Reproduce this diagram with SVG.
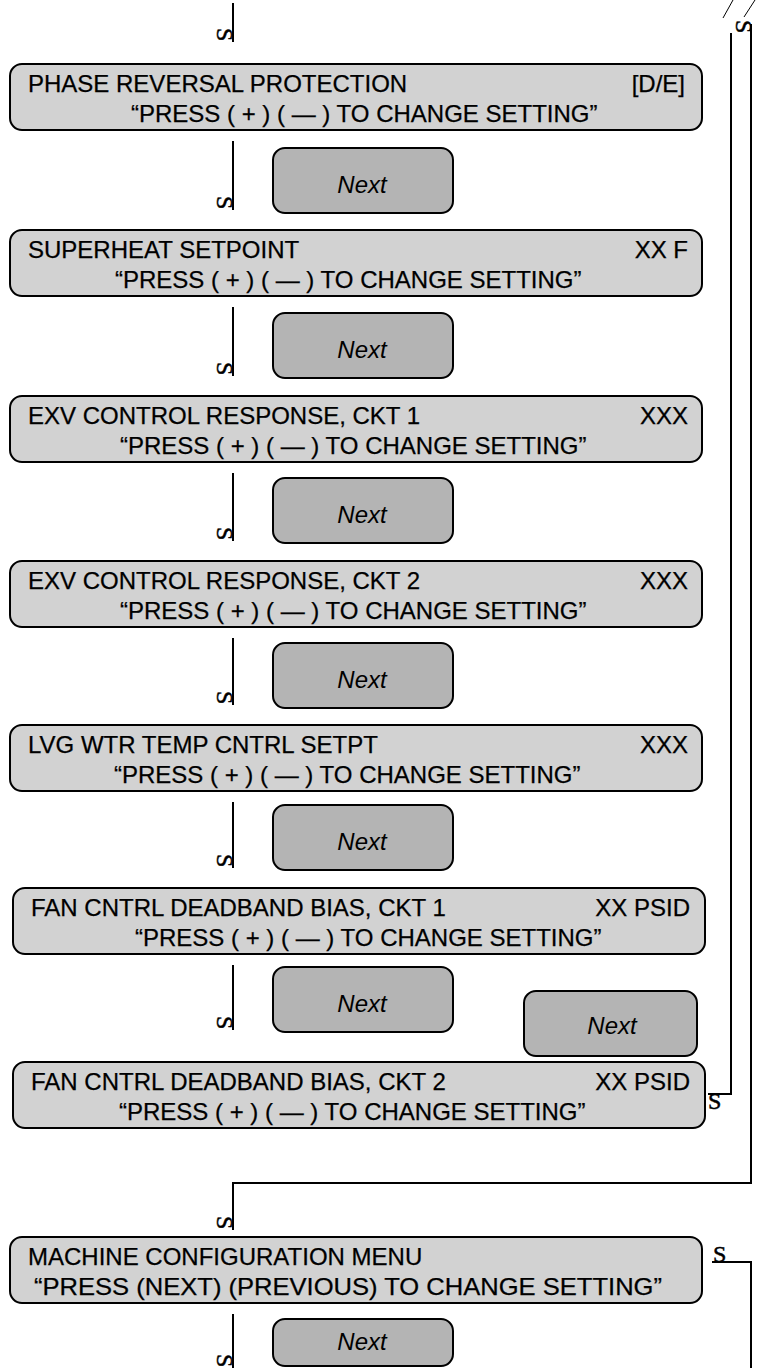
<svg xmlns="http://www.w3.org/2000/svg" width="766" height="1368" viewBox="0 0 766 1368">
<style>
.box{fill:#d2d2d2;stroke:#000;stroke-width:2}
.nxt{fill:#b4b4b4;stroke:#000;stroke-width:2}
.t{font-family:"Liberation Sans",Arial,sans-serif;font-size:24px;fill:#000;stroke:#000;stroke-width:0.25}
.n{font-family:"Liberation Sans",Arial,sans-serif;font-size:24px;font-style:italic;fill:#000;text-anchor:middle}
.r{text-anchor:end}
.ln{fill:none;stroke:#000;stroke-width:2}
.s{font-family:"Liberation Serif","Times New Roman",serif;font-size:24px;fill:#000;stroke:#000;stroke-width:0.5}
</style>
<rect width="766" height="1368" fill="#fff"/>
<g id="connectors">
<path class="ln" d="M233 3V42M233 141V210M233 307V376M233 473V541M233 638V705M233 802V868M233 965V1030M233 1314V1368"/>
<text class="s" transform="translate(217,28) rotate(90)">S</text>
<text class="s" transform="translate(217,196) rotate(90)">S</text>
<text class="s" transform="translate(217,362) rotate(90)">S</text>
<text class="s" transform="translate(217,527) rotate(90)">S</text>
<text class="s" transform="translate(217,691) rotate(90)">S</text>
<text class="s" transform="translate(217,854) rotate(90)">S</text>
<text class="s" transform="translate(217,1016) rotate(90)">S</text>
<text class="s" transform="translate(217,1354) rotate(90)">S</text>
<path class="ln" d="M708 1094H731V33"/>
<text class="s" x="708" y="1109">S</text>
<path class="ln" d="M751 24V1183H233V1230"/>
<text class="s" transform="translate(217,1216) rotate(90)">S</text>
<path class="ln" d="M712 1262H751V1368"/>
<text class="s" x="713" y="1262">S</text>
<text class="s" transform="translate(736,20) rotate(90)">S</text>
<path d="M723 18L733 0M744 17L755 0" fill="none" stroke="#000" stroke-width="1"/>
</g>
<g id="phase-reversal">
<rect class="box" x="10" y="64" width="692" height="66" rx="12"/>
<text class="t" x="28" y="92">PHASE REVERSAL PROTECTION</text>
<text class="t r" x="685" y="92">[D/E]</text>
<text class="t" x="131" y="122">“PRESS ( + ) ( — ) TO CHANGE SETTING”</text>
</g>
<g id="next1"><rect class="nxt" x="273" y="148" width="180" height="65" rx="12"/><text class="n" x="362" y="193">Next</text></g>
<g id="superheat">
<rect class="box" x="10" y="230" width="692" height="66" rx="12"/>
<text class="t" x="28" y="258">SUPERHEAT SETPOINT</text>
<text class="t r" x="688" y="258">XX F</text>
<text class="t" x="115" y="288">“PRESS ( + ) ( — ) TO CHANGE SETTING”</text>
</g>
<g id="next2"><rect class="nxt" x="273" y="313" width="180" height="65" rx="12"/><text class="n" x="362" y="358">Next</text></g>
<g id="exv1">
<rect class="box" x="10" y="396" width="692" height="66" rx="12"/>
<text class="t" x="28" y="424">EXV CONTROL RESPONSE, CKT 1</text>
<text class="t r" x="688" y="424">XXX</text>
<text class="t" x="120" y="454">“PRESS ( + ) ( — ) TO CHANGE SETTING”</text>
</g>
<g id="next3"><rect class="nxt" x="273" y="478" width="180" height="65" rx="12"/><text class="n" x="362" y="523">Next</text></g>
<g id="exv2">
<rect class="box" x="10" y="561" width="692" height="66" rx="12"/>
<text class="t" x="28" y="589">EXV CONTROL RESPONSE, CKT 2</text>
<text class="t r" x="688" y="589">XXX</text>
<text class="t" x="120" y="619">“PRESS ( + ) ( — ) TO CHANGE SETTING”</text>
</g>
<g id="next4"><rect class="nxt" x="273" y="643" width="180" height="65" rx="12"/><text class="n" x="362" y="688">Next</text></g>
<g id="lvg">
<rect class="box" x="10" y="725" width="692" height="66" rx="12"/>
<text class="t" x="28" y="753">LVG WTR TEMP CNTRL SETPT</text>
<text class="t r" x="688" y="753">XXX</text>
<text class="t" x="114" y="783">“PRESS ( + ) ( — ) TO CHANGE SETTING”</text>
</g>
<g id="next5"><rect class="nxt" x="273" y="805" width="180" height="65" rx="12"/><text class="n" x="362" y="850">Next</text></g>
<g id="fan1">
<rect class="box" x="13" y="888" width="692" height="66" rx="12"/>
<text class="t" x="31" y="916">FAN CNTRL DEADBAND BIAS, CKT 1</text>
<text class="t r" x="690" y="916">XX PSID</text>
<text class="t" x="135" y="946">“PRESS ( + ) ( — ) TO CHANGE SETTING”</text>
</g>
<g id="next6"><rect class="nxt" x="273" y="967" width="180" height="65" rx="12"/><text class="n" x="362" y="1012">Next</text></g>
<g id="next-right"><rect class="nxt" x="524" y="991" width="173" height="65" rx="12"/><text class="n" x="612" y="1034">Next</text></g>
<g id="fan2">
<rect class="box" x="13" y="1062" width="692" height="66" rx="12"/>
<text class="t" x="31" y="1090">FAN CNTRL DEADBAND BIAS, CKT 2</text>
<text class="t r" x="690" y="1090">XX PSID</text>
<text class="t" x="119" y="1120">“PRESS ( + ) ( — ) TO CHANGE SETTING”</text>
</g>
<g id="machine-config">
<rect class="box" x="10" y="1237" width="692" height="66" rx="12"/>
<text class="t" x="28" y="1265">MACHINE CONFIGURATION MENU</text>
<text class="t" x="34" y="1295" textLength="628" lengthAdjust="spacingAndGlyphs">“PRESS (NEXT) (PREVIOUS) TO CHANGE SETTING”</text>
</g>
<g id="next8"><rect class="nxt" x="273" y="1319" width="180" height="47" rx="12"/><text class="n" x="362" y="1350">Next</text></g>
</svg>
